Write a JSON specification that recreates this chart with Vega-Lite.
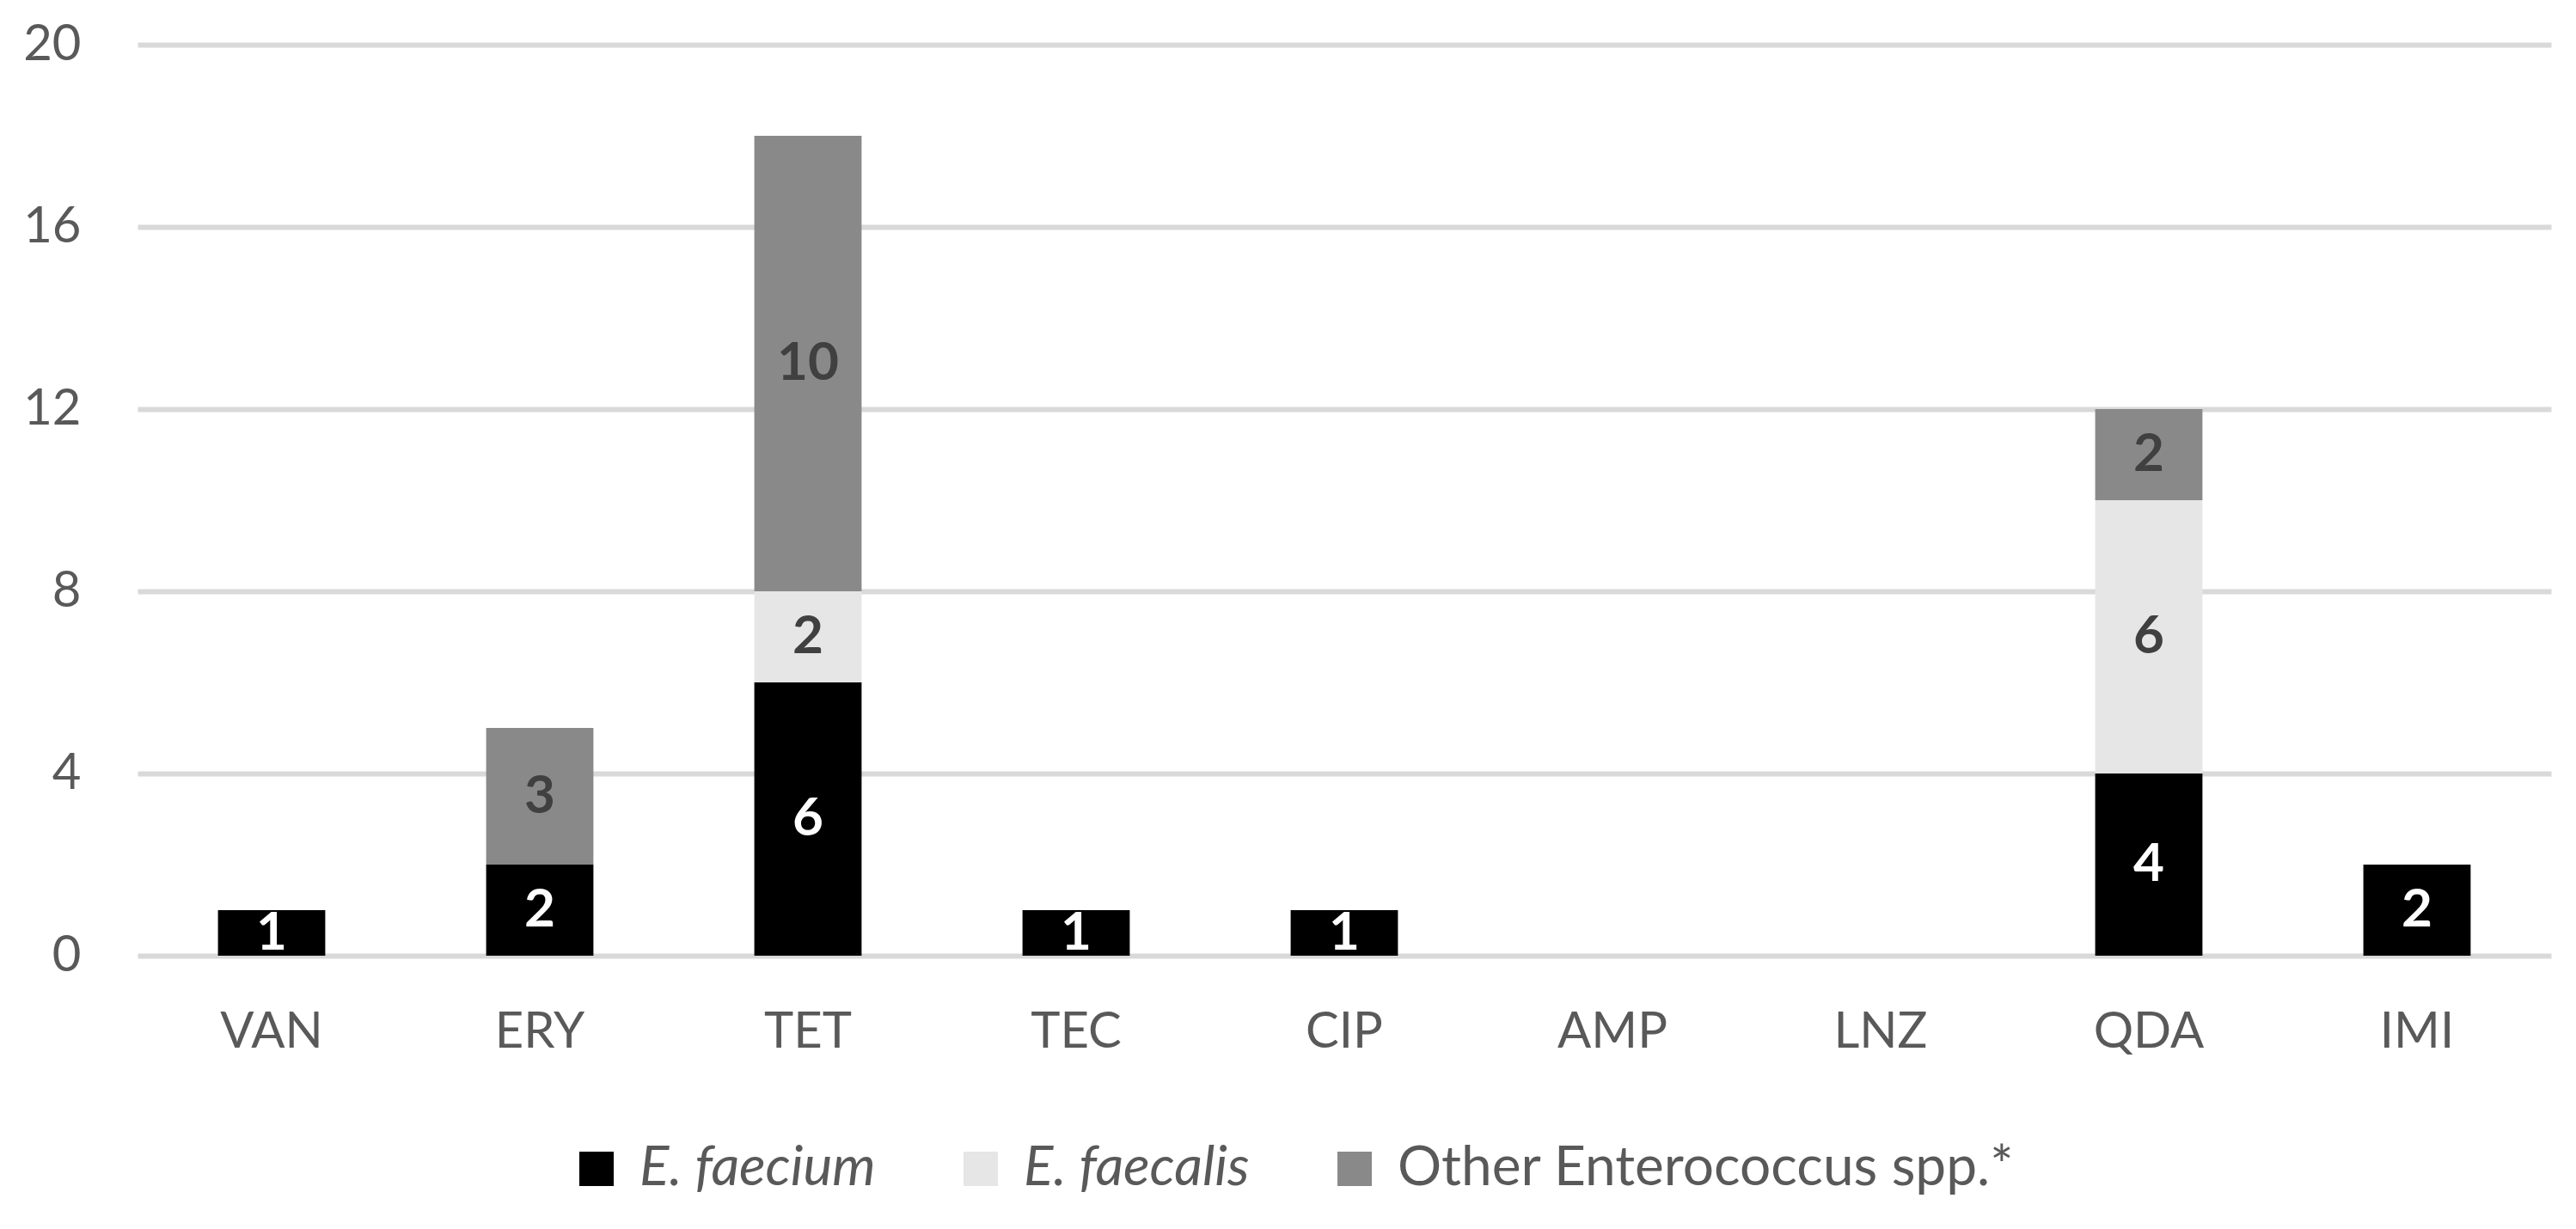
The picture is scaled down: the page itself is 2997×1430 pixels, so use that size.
{
  "$schema": "https://vega.github.io/schema/vega-lite/v6.json",
  "autosize": {"type": "none"},
  "padding": {"left": 160, "top": 52, "right": 29, "bottom": 318},
  "width": 2808,
  "height": 1060,
  "background": "white",
  "config": {
    "view": {"stroke": null},
    "font": "Lato",
    "axis": {"labelFont": "Lato", "labelFontSize": 58, "labelColor": "#595959"}
  },
  "datasets": {
    "species_order": [
      {"species": "E. faecium", "rank": 1},
      {"species": "E. faecalis", "rank": 2},
      {"species": "Other Enterococcus spp.*", "rank": 3}
    ]
  },
  "data": {
    "values": [
      {"drug": "VAN", "species": "E. faecium", "count": 1},
      {"drug": "ERY", "species": "E. faecium", "count": 2},
      {"drug": "ERY", "species": "Other Enterococcus spp.*", "count": 3},
      {"drug": "TET", "species": "E. faecium", "count": 6},
      {"drug": "TET", "species": "E. faecalis", "count": 2},
      {"drug": "TET", "species": "Other Enterococcus spp.*", "count": 10},
      {"drug": "TEC", "species": "E. faecium", "count": 1},
      {"drug": "CIP", "species": "E. faecium", "count": 1},
      {"drug": "QDA", "species": "E. faecium", "count": 4},
      {"drug": "QDA", "species": "E. faecalis", "count": 6},
      {"drug": "QDA", "species": "Other Enterococcus spp.*", "count": 2},
      {"drug": "IMI", "species": "E. faecium", "count": 2}
    ]
  },
  "transform": [
    {
      "lookup": "species",
      "from": {"data": {"name": "species_order"}, "key": "species", "fields": ["rank"]}
    }
  ],
  "encoding": {
    "x": {
      "field": "drug",
      "type": "nominal",
      "sort": null,
      "scale": {
        "domain": ["VAN", "ERY", "TET", "TEC", "CIP", "AMP", "LNZ", "QDA", "IMI"],
        "paddingInner": 0.6,
        "paddingOuter": 0.3
      },
      "axis": {
        "title": null,
        "labelAngle": 0,
        "domain": false,
        "ticks": false,
        "labelPadding": 60
      }
    },
    "y": {
      "field": "count",
      "type": "quantitative",
      "stack": "zero",
      "scale": {"domain": [0, 20]},
      "axis": {
        "title": null,
        "values": [0, 4, 8, 12, 16, 20],
        "domain": false,
        "ticks": false,
        "labelPadding": 66,
        "gridColor": "#d9d9d9",
        "gridWidth": 6
      }
    },
    "order": {"field": "rank", "type": "quantitative", "sort": "ascending"}
  },
  "layer": [
    {
      "mark": {"type": "bar"},
      "encoding": {
        "color": {
          "field": "species",
          "type": "nominal",
          "sort": ["E. faecium", "E. faecalis", "Other Enterococcus spp.*"],
          "scale": {
            "domain": ["E. faecium", "E. faecalis", "Other Enterococcus spp.*"],
            "range": ["#000000", "#e6e6e6", "#898989"]
          },
          "legend": {
            "title": null,
            "orient": "none",
            "direction": "horizontal",
            "legendX": 502,
            "legendY": 1276,
            "symbolType": "square",
            "symbolSize": 1600,
            "symbolStrokeWidth": 0,
            "labelFont": "Lato",
            "labelFontSize": 64,
            "labelColor": "#595959",
            "labelOffset": 18,
            "columnPadding": 90,
            "labelLimit": 1000,
            "encode": {
              "labels": {
                "update": {
                  "fontStyle": {"signal": "datum.value == 'Other Enterococcus spp.*' ? 'normal' : 'italic'"}
                }
              }
            }
          }
        }
      }
    },
    {
      "mark": {"type": "text", "fontWeight": "bold", "fontSize": 62, "baseline": "middle"},
      "encoding": {
        "y": {"field": "count", "type": "quantitative", "stack": "zero", "bandPosition": 0.5},
        "text": {"field": "count", "type": "quantitative"},
        "color": {
          "field": "species",
          "type": "nominal",
          "scale": {
            "domain": ["E. faecium", "E. faecalis", "Other Enterococcus spp.*"],
            "range": ["#ffffff", "#404040", "#404040"]
          },
          "legend": null
        }
      }
    }
  ],
  "resolve": {"scale": {"color": "independent"}}
}
